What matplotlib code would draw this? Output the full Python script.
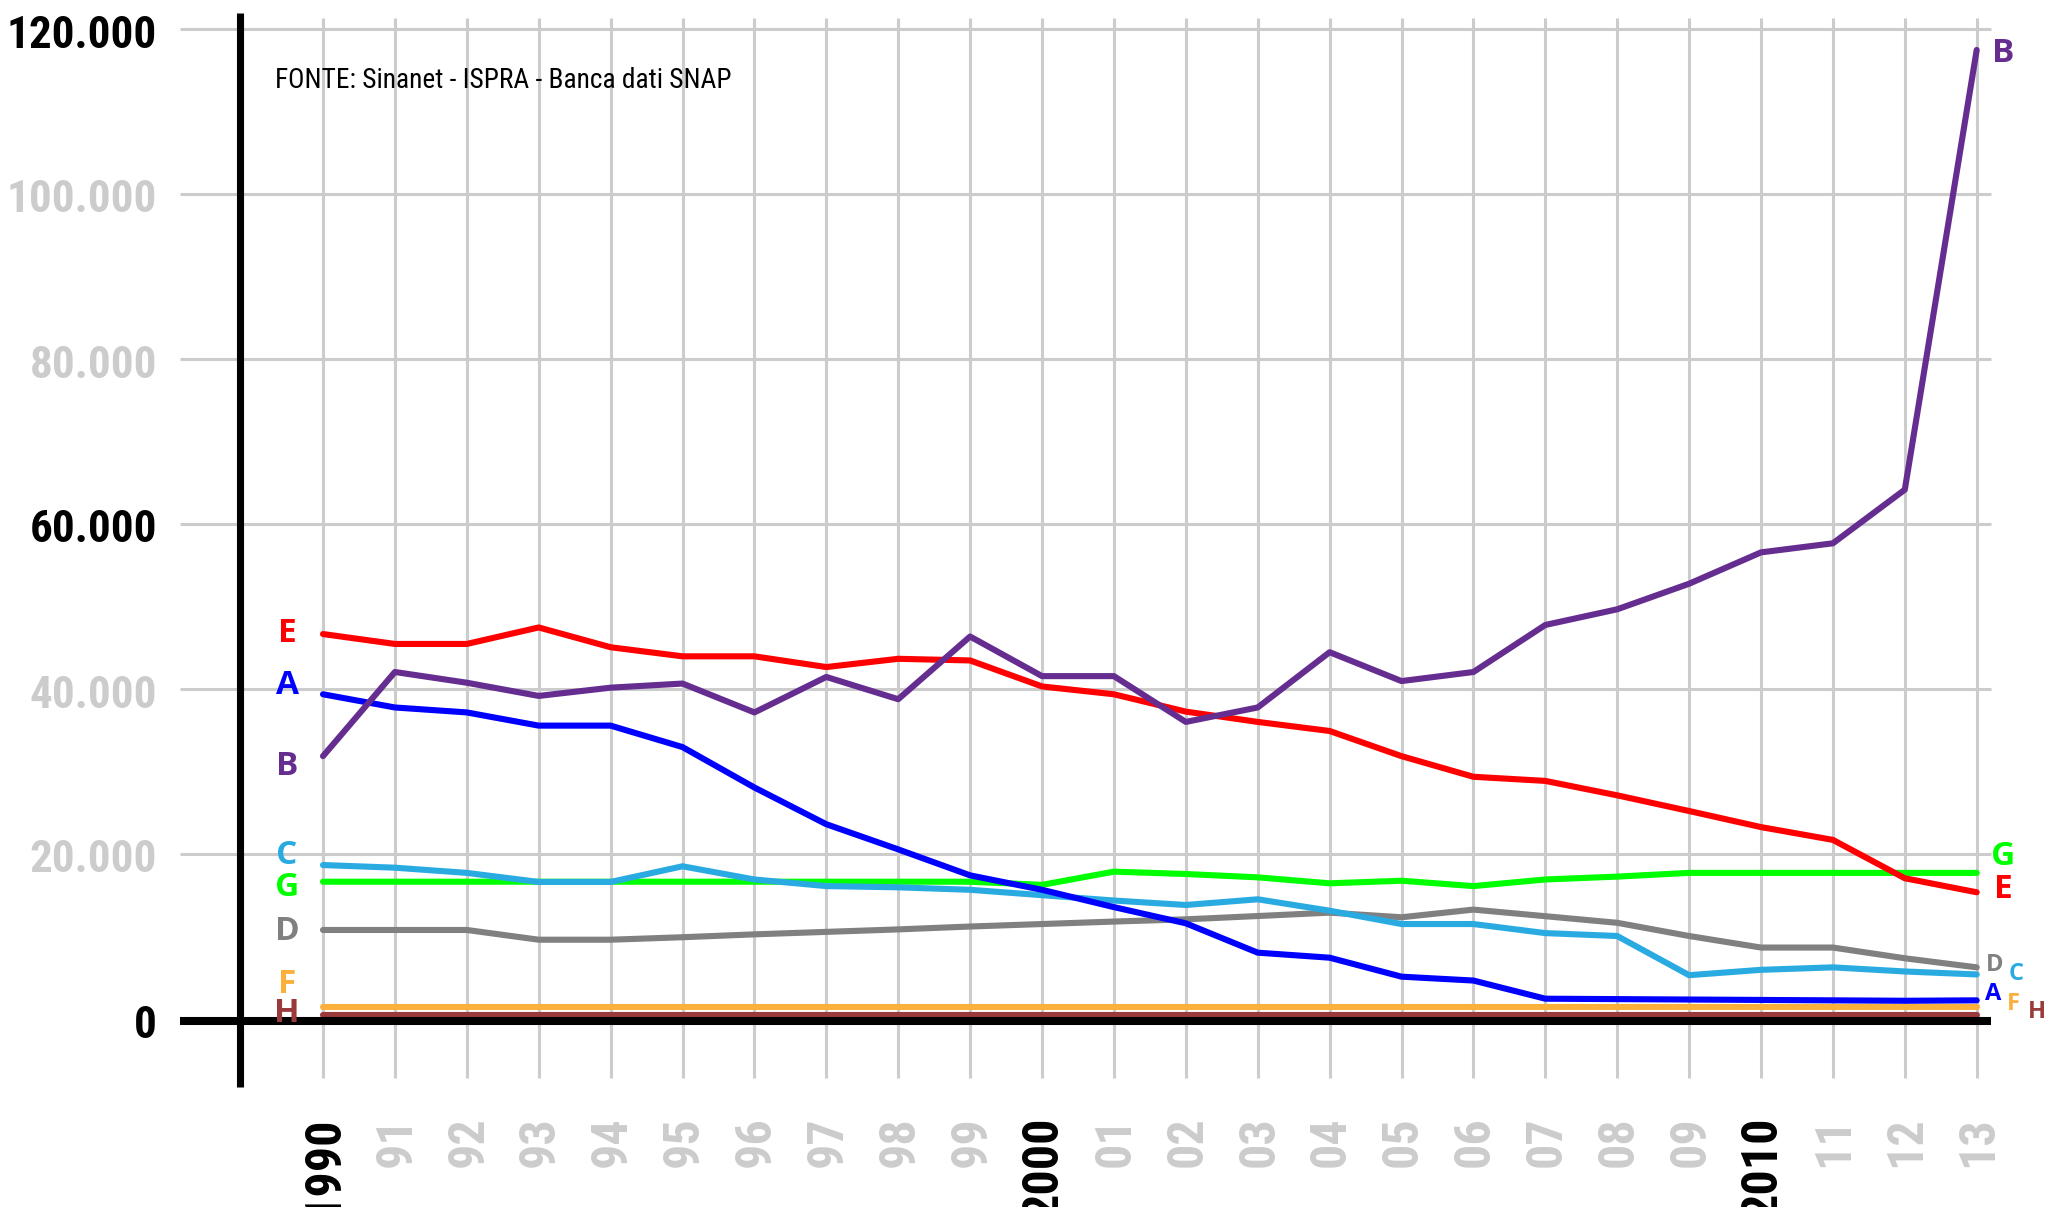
import matplotlib
matplotlib.use('Agg')
import matplotlib.pyplot as plt
from matplotlib import font_manager as fm

# ---------------- data ----------------
years = list(range(1990, 2014))
year_labels = ['1990', '91', '92', '93', '94', '95', '96', '97', '98', '99',
               '2000', '01', '02', '03', '04', '05', '06', '07', '08', '09',
               '2010', '11', '12', '13']
major_years = [1990, 2000, 2010]

y_ticks = [0, 20000, 40000, 60000, 80000, 100000, 120000]
y_tick_labels = ['0', '20.000', '40.000', '60.000', '80.000', '100.000', '120.000']
y_ticks_dark = [0, 60000, 120000]

E = [46600, 45400, 45400, 47400, 45000, 43900, 43900, 42600, 43600, 43400,
     40250, 39300, 37200, 35950, 34850, 31800, 29300, 28800, 27050, 25150,
     23200, 21650, 17000, 15300]
A = [39300, 37700, 37100, 35500, 35500, 32900, 28000, 23550, 20500, 17350,
     15600, 13500, 11540, 7980, 7370, 5070, 4600, 2400, 2350, 2300,
     2250, 2200, 2150, 2200]
B = [31800, 42000, 40700, 39100, 40100, 40600, 37100, 41400, 38700, 46300,
     41500, 41500, 35950, 37700, 44400, 40900, 42000, 47700, 49600, 52700,
     56500, 57600, 64100, 117400]
C = [18600, 18280, 17650, 16550, 16550, 18450, 16850, 16050, 15900, 15600,
     14950, 14300, 13760, 14450, 13070, 11450, 11450, 10350, 10000, 5250,
     5900, 6200, 5700, 5340]
G = [16580, 16580, 16580, 16580, 16580, 16580, 16580, 16580, 16580, 16580,
     16200, 17800, 17515, 17110, 16385, 16700, 16050, 16850, 17200, 17650,
     17650, 17650, 17650, 17650]
D = [10730, 10730, 10730, 9550, 9550, 9850, 10200, 10500, 10800, 11150,
     11450, 11750, 12020, 12420, 12830, 12270, 13200, 12400, 11600, 10000,
     8600, 8600, 7300, 6200]
F = [1430, 1430, 1430, 1430, 1430, 1430, 1430, 1430, 1430, 1430,
     1430, 1430, 1430, 1430, 1430, 1430, 1430, 1430, 1430, 1430,
     1430, 1430, 1430, 1430]
H = [420, 420, 420, 420, 420, 420, 420, 420, 420, 420,
     420, 420, 420, 420, 420, 420, 420, 420, 420, 420,
     420, 420, 420, 420]

series_names = ['H', 'F', 'D', 'G', 'C', 'A', 'E', 'B']
series_values = {'E': E, 'A': A, 'B': B, 'C': C, 'G': G, 'D': D, 'F': F, 'H': H}
series_colors = {'E': '#ff0000', 'A': '#0000ff', 'B': '#662d91', 'C': '#29abe2',
                 'G': '#00ff00', 'D': '#808080', 'F': '#fbb03b', 'H': '#9b3a3a'}
source_text = 'FONTE: Sinanet - ISPRA - Banca dati SNAP'

# ---------------- fonts ----------------
available = {f.name for f in fm.fontManager.ttflist}


def pick(cands):
    for c in cands:
        if c in available:
            return c
    return 'DejaVu Sans'


NARROW = pick(['Liberation Sans Narrow', 'DejaVu Sans Condensed', 'Roboto Condensed',
               'Open Sans Condensed', 'Liberation Sans'])
LETTER = pick(['Open Sans', 'Lato', 'Liberation Sans'])

# ---------------- layout ----------------
W, Hpx = 2049, 1207
X0, DX = 323.0, 71.9          # pixel of 1990, pixels per year
Y0, DY = 1018.5, 165.0 / 20000  # pixel of 0, pixels per unit


def xv(px):
    return 1990 + (px - X0) / DX


def yv(py):
    return (Y0 - py) / DY


fig = plt.figure(figsize=(W / 100, Hpx / 100), dpi=100)
fig.patch.set_facecolor('white')
ax = fig.add_axes([0, 0, 1, 1])
ax.set_xlim(xv(0), xv(W))
ax.set_ylim(yv(Hpx), yv(0))
ax.axis('off')

GRID = '#cccccc'
# grid
ax.vlines(years, yv(1078), yv(18), color=GRID, lw=2.2, zorder=1)
ax.hlines(y_ticks[1:], xv(180), xv(1991), color=GRID, lw=2.2, zorder=1)

# series
for name in series_names:
    ax.plot(years, series_values[name], color=series_colors[name], lw=4.4,
            solid_capstyle='round', solid_joinstyle='round', zorder=3)

# black axes
ax.plot([xv(240), xv(240)], [yv(1087), yv(13)], color='black', lw=5.1,
        solid_capstyle='butt', zorder=5)
ax.plot([xv(180), xv(1991)], [yv(1021), yv(1021)], color='black', lw=5.8,
        solid_capstyle='butt', zorder=5)

# y tick labels
for v, lab in zip(y_ticks, y_tick_labels):
    col = 'black' if v in y_ticks_dark else GRID
    ax.text(xv(157), v - 19 / DY, lab, ha='right', va='baseline', fontsize=32.5,
            fontweight='bold', family=NARROW, color=col)

# x tick labels
for yr, lab in zip(years, year_labels):
    col = 'black' if yr in major_years else GRID
    ax.text(yr + 2 / DX, yv(1116), lab, rotation=90, ha='center', va='top',
            fontsize=36, fontweight='bold', family=NARROW, color=col)

# source
ax.text(xv(275), yv(88), source_text, ha='left', va='baseline', fontsize=19.7,
        family=NARROW, color='black', zorder=6)

# series labels (left)
left_pos = {'E': 630, 'A': 682, 'B': 763, 'C': 852, 'G': 884, 'D': 928, 'F': 981, 'H': 1010}
for name, cy in left_pos.items():
    ax.text(xv(287), yv(cy + 12), name, ha='center', va='baseline', fontsize=24,
            fontweight='bold', family=LETTER, color=series_colors[name], zorder=6)

# series labels (right)
right_pos = {'B': (2003, 50, 24), 'G': (2003, 853, 24), 'E': (2003, 886, 24),
             'D': (1995, 963, 17), 'C': (2016, 972, 17), 'A': (1993, 992, 17),
             'F': (2013, 1002, 17), 'H': (2037, 1010, 17)}
for name, (cx, cy, fs) in right_pos.items():
    cap = fs * 1.389 * 0.714
    ax.text(xv(cx), yv(cy + cap / 2), name, ha='center', va='baseline', fontsize=fs,
            fontweight='bold', family=LETTER, color=series_colors[name], zorder=6)

fig.savefig('out.png', dpi=100, facecolor='white')
